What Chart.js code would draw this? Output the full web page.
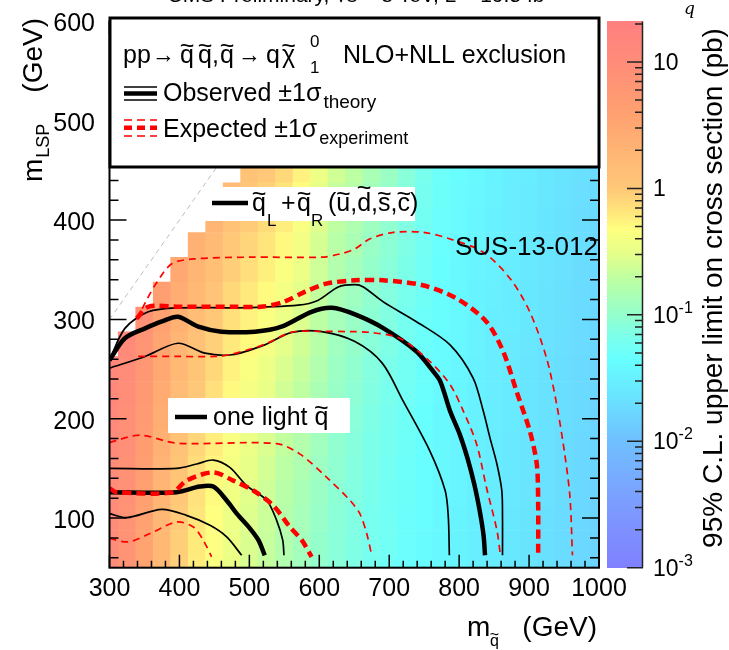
<!DOCTYPE html>
<html lang="en">
<head>
<meta charset="UTF-8">
<title>SUS-13-012 squark exclusion</title>
<script src="https://cdn.jsdelivr.net/npm/chart.js"></script>
<style>
  html, body { margin: 0; padding: 0; background: #fff; }
  #wrap { width: 729px; height: 650px; }
</style>
</head>
<body>
<div id="wrap"><canvas id="myChart" width="729" height="650"></canvas></div>
<script>
const FONT = "'Liberation Sans', Arial, Helvetica, sans-serif";

// limit map grid (GeV)
const squarkMass = [300, 325, 350, 375, 400, 425, 450, 475, 500, 525, 550, 575, 600, 625, 650,
  675, 700, 725, 750, 775, 800, 825, 850, 875, 900, 925, 950, 975, 1000];
const lspMass = [50, 75, 100, 125, 150, 175, 200, 225, 250, 275, 300, 325, 350, 375, 400, 425, 450];

// 100 * log10(95% CL upper limit / pb), one row per lspMass, null = no point
const limitLog = [
  [100, 85, 55, 22, -5, -22, -35, -48, -58, -68, -80, -90, -100, -108, -115, -122, -128, -133, -138, -143, -147, -152, -156, -160, -164, -168, -172, -176, -180],
  [101, 86, 56, 23, -4, -21, -34, -47, -57, -67, -79, -89, -99, -107, -114, -121, -127, -132, -138, -143, -147, -152, -156, -160, -164, -168, -172, -176, -180],
  [102, 87, 58, 25, -2, -19, -32, -45, -55, -65, -77, -87, -97, -106, -113, -121, -127, -132, -137, -142, -147, -152, -156, -160, -164, -168, -172, -176, -180],
  [103, 89, 60, 28, 1, -16, -30, -43, -53, -63, -75, -85, -95, -105, -112, -119, -126, -131, -137, -142, -146, -151, -155, -159, -163, -167, -171, -175, -180],
  [104, 91, 63, 31, 5, -13, -27, -40, -50, -60, -72, -82, -93, -103, -111, -118, -125, -130, -136, -142, -146, -151, -155, -159, -163, -167, -171, -175, -179],
  [106, 93, 66, 35, 9, -9, -23, -37, -47, -57, -69, -79, -90, -102, -109, -117, -123, -129, -135, -141, -146, -151, -155, -159, -163, -167, -171, -175, -179],
  [108, 95, 70, 39, 13, -5, -19, -33, -43, -53, -65, -75, -87, -99, -107, -115, -122, -128, -135, -141, -145, -150, -154, -158, -162, -166, -170, -174, -179],
  [110, 98, 74, 43, 18, 0, -15, -29, -39, -49, -61, -71, -84, -96, -104, -113, -120, -127, -133, -140, -144, -149, -154, -158, -162, -166, -170, -174, -178],
  [112, 101, 78, 48, 23, 5, -10, -25, -35, -45, -57, -67, -80, -94, -102, -111, -118, -125, -132, -139, -144, -149, -153, -158, -162, -166, -170, -174, -178],
  [null, 105, 83, 53, 29, 10, -5, -20, -30, -40, -52, -62, -76, -91, -99, -108, -115, -123, -131, -138, -143, -148, -153, -157, -161, -165, -169, -173, -177],
  [null, null, 88, 59, 35, 16, 0, -15, -25, -35, -47, -57, -72, -87, -96, -105, -113, -122, -130, -137, -142, -147, -152, -156, -160, -164, -168, -172, -177],
  [null, null, null, 65, 41, 22, 6, -10, -20, -30, -41, -52, -68, -84, -92, -102, -111, -120, -128, -136, -142, -147, -151, -156, -160, -164, -168, -172, -176],
  [null, null, null, null, 48, 29, 12, -4, -14, -24, -35, -47, -63, -79, -88, -99, -108, -117, -127, -135, -141, -146, -150, -155, -159, -163, -167, -171, -176],
  [null, null, null, null, null, 36, 19, 2, -8, -18, -29, -42, -59, -75, -84, -96, -105, -115, -125, -134, -140, -145, -150, -154, -158, -162, -166, -170, -175],
  [null, null, null, null, null, null, 28, 9, -2, -12, -23, -37, -55, -71, -81, -92, -102, -113, -124, -133, -139, -144, -149, -154, -158, -162, -166, -170, -174],
  [null, null, null, null, null, null, null, 18, 3, -6, -17, -31, -50, -67, -76, -89, -98, -110, -122, -131, -138, -143, -148, -153, -157, -161, -165, -169, -174],
  [null, null, null, null, null, null, null, null, 8, 0, -10, -25, -45, -62, -72, -85, -95, -108, -120, -130, -137, -142, -147, -152, -156, -160, -164, -168, -173]
];

// contours, [m_squark, m_LSP]; q_L + q_R (8 squarks)
const obsUpper = [[300, 259], [322, 281], [351, 291], [375, 298], [398, 302.7], [427, 292.7], [460, 287.7],
  [508, 287.7], [546, 292.7], [589, 307.7], [618, 311.7], [651, 305], [692, 291], [739, 267.7], [761, 249.4],
  [773, 237.7], [787, 207.7], [801, 184], [812, 160], [822, 133], [830, 105], [835, 82], [837, 62.5]];
const obsUpperPlus = [[300, 259], [322, 291], [355.5, 307.7], [398, 311.7], [484, 311.7], [570, 314.4],
  [598.6, 319.4], [627, 332.7], [651, 335], [663, 332.7], [691.5, 317.7], [739, 297.7], [787, 274.4],
  [820, 241], [834.5, 207.7], [844, 181], [854, 154.4], [861, 127.7], [862, 100], [862, 62.5]];
const obsUpperMinus = [[300, 251], [351, 262.7], [398, 276], [436.5, 266], [474.7, 264.4], [522, 274.4],
  [560.5, 287], [603.5, 287.7], [651, 277.7], [690, 256], [720, 217.7], [758, 167.7], [780, 127.7],
  [784.5, 101], [786, 62.5]];
const expUpper = [[339, 301], [355, 312.7], [400, 312.7], [480, 312.7], [520, 313], [550, 318], [580, 328],
  [610, 336], [651, 339.4], [691.5, 339.4], [748, 334.4], [796.5, 321], [839, 297.7], [863, 267.7],
  [882, 227.7], [901, 187.7], [911, 154.4], [913, 114.4], [913, 62.5]];
const expUpperPlus = [[339, 300], [352, 318], [365, 334.4], [389, 356], [422, 361], [500, 362.7],
  [603.5, 362.7], [630, 366], [651, 371], [672, 381], [706, 387.7], [748.7, 387.7], [787, 381],
  [834.5, 367.7], [873, 341], [901, 307.7], [925, 261], [939.5, 214.4], [951, 164.4], [958.5, 121], [962, 62.5]];
const expUpperMinus = [[341, 262.7], [400, 262.7], [451, 262.7], [475, 265], [522, 275], [560, 287],
  [603, 288], [644, 287.7], [672, 287], [715, 281], [758, 257.7], [787, 234.4], [806, 207.7],
  [825, 174.4], [839, 131], [854, 87.7], [859, 62.5]];

// one light squark
const obsLower = [[300, 126], [396, 126], [429, 131.7], [448.5, 131.7], [467.6, 117.7], [482, 104.4],
  [501, 89.4], [513, 77.7], [522, 62.5]];
const obsLowerPlus = [[300, 150], [396, 150], [424.7, 154.4], [448.5, 158.4], [472, 151], [496, 132.7],
  [525, 117.7], [539, 97.7], [547.7, 77.7], [549.5, 62.5]];
const obsLowerMinus = [[300, 104.4], [324.6, 100.4], [374.6, 108.7], [410, 102.7], [443.7, 92.7],
  [467.6, 81], [489, 62.5]];
const expLower = [[300, 130], [310, 126], [390, 126], [410, 137.7], [448.5, 146], [477, 137.7],
  [505.6, 127.7], [534, 112.7], [558, 91], [575, 77.7], [589, 61]];
const expLowerPlus = [[300, 176], [343.6, 183.4], [396, 175.4], [539, 175], [572.4, 164.4], [610.6, 141],
  [644, 117.7], [658, 104.4], [667.8, 84.4], [675, 62.5]];
const expLowerMinus = [[300, 79.4], [327, 76], [358, 84.4], [396, 96], [420, 91], [434, 77.7], [446, 61]];

const diagonal = [[300, 300], [460, 460]];

const colourTicks = [0.001, 0.01, 0.1, 1, 10];
const colourTickText = [['10', '-3'], ['10', '-2'], ['10', '-1'], ['1', ''], ['10', '']];

// palette: [log10(pb), r, g, b]
const palette = [
  [-3.0, 128, 128, 255], [-2.5, 124, 156, 255], [-2.0, 112, 192, 255], [-1.6, 104, 232, 255],
  [-1.35, 104, 255, 255], [-1.2, 120, 255, 238], [-0.97, 152, 255, 200], [-0.7, 192, 255, 160],
  [-0.5, 232, 255, 136], [-0.32, 255, 255, 128], [-0.2, 255, 232, 124], [0.0, 255, 200, 120],
  [0.6, 255, 160, 112], [1.0, 255, 140, 120], [1.32, 255, 128, 128]
];

function colourFor(lg) {
  if (lg <= palette[0][0]) return `rgb(${palette[0][1]},${palette[0][2]},${palette[0][3]})`;
  for (let i = 1; i < palette.length; i++) {
    const a = palette[i - 1], b = palette[i];
    if (lg <= b[0]) {
      const t = (lg - a[0]) / (b[0] - a[0]);
      const c = [1, 2, 3].map(k => Math.round(a[k] + (b[k] - a[k]) * t));
      return `rgb(${c[0]},${c[1]},${c[2]})`;
    }
  }
  const l = palette[palette.length - 1];
  return `rgb(${l[1]},${l[2]},${l[3]})`;
}

const halfCell = (lspMass[1] - lspMass[0]) / 2;
const heatSets = lspMass.map((lsp, r) => {
  const pts = [], cols = [];
  squarkMass.forEach((m, c) => {
    const v = limitLog[r][c];
    if (v === null) return;
    pts.push({ x: m, y: [lsp - halfCell, lsp + halfCell] });
    cols.push(colourFor(v / 100));
  });
  return { type: 'bar', data: pts, backgroundColor: cols, borderWidth: 0,
    barPercentage: 1, categoryPercentage: 1, grouped: false, order: 10 };
});

function curve(pts, color, width, dash) {
  return { type: 'line', data: pts.map(p => ({ x: p[0], y: p[1] })), borderColor: color,
    borderWidth: width, borderDash: dash || [], pointRadius: 0, tension: 0.3, fill: false, order: 1 };
}

const RED = '#ff0000';
const lineSets = [
  curve(diagonal, '#bdbdbd', 1, [5, 4]),
  curve(expUpperPlus, RED, 1.7, [7, 5]), curve(expUpperMinus, RED, 1.7, [7, 5]), curve(expUpper, RED, 4.5, [9, 5]),
  curve(expLowerPlus, RED, 1.7, [7, 5]), curve(expLowerMinus, RED, 1.7, [7, 5]), curve(expLower, RED, 4.5, [9, 5]),
  curve(obsUpperPlus, '#000', 1.7), curve(obsUpperMinus, '#000', 1.7), curve(obsUpper, '#000', 4.5),
  curve(obsLowerPlus, '#000', 1.7), curve(obsLowerMinus, '#000', 1.7), curve(obsLower, '#000', 4.5)
];
lineSets[0].order = 2;

// text helpers
function put(ctx, s, x, y, size, style) {
  ctx.font = (style ? style + ' ' : '') + size + 'px ' + FONT;
  ctx.textAlign = 'left';
  ctx.fillText(s, x, y);
  return x + ctx.measureText(s).width;
}
function withTilde(ctx, ch, x, y, size, tall) {
  const end = put(ctx, ch, x, y, size);
  ctx.textAlign = 'center';
  ctx.fillText('~', (x + end) / 2, y - size * (tall ? 0.6 : 0.36));
  ctx.textAlign = 'left';
  return end;
}
function hline(ctx, x0, x1, y, w, color, dash) {
  ctx.beginPath();
  ctx.setLineDash(dash || []);
  ctx.strokeStyle = color; ctx.lineWidth = w;
  ctx.moveTo(x0, y); ctx.lineTo(x1, y); ctx.stroke();
  ctx.setLineDash([]);
}

const decorations = {
  id: 'decorations',
  afterDraw(chart) {
    const ctx = chart.ctx, a = chart.chartArea;
    const xs = chart.scales.x, ys = chart.scales.y, zs = chart.scales.z;
    ctx.save();
    ctx.fillStyle = '#000';
    ctx.textBaseline = 'alphabetic';

    // inward tick marks on all four sides
    ctx.strokeStyle = '#000'; ctx.lineWidth = 1.5;
    ctx.beginPath();
    for (let v = 300; v <= 1000; v += 20) {
      const px = xs.getPixelForValue(v), len = v % 100 === 0 ? 13 : 7;
      ctx.moveTo(px, a.bottom); ctx.lineTo(px, a.bottom - len);
      ctx.moveTo(px, a.top); ctx.lineTo(px, a.top + len);
    }
    for (let v = 60; v <= 600; v += 20) {
      const py = ys.getPixelForValue(v), len = v % 100 === 0 ? 17 : 9;
      ctx.moveTo(a.left, py); ctx.lineTo(a.left + len, py);
      ctx.moveTo(a.right, py); ctx.lineTo(a.right - len, py);
    }
    ctx.stroke();
    ctx.lineWidth = 2;
    ctx.strokeRect(a.left, a.top, a.right - a.left, a.bottom - a.top);

    // colour bar
    const cbL = 607, cbR = 643;
    for (let py = Math.floor(zs.top); py < zs.bottom; py++) {
      const v = zs.getValueForPixel(Math.min(py + 0.5, zs.bottom));
      ctx.fillStyle = colourFor(Math.log10(v));
      ctx.fillRect(cbL, py, cbR - cbL, 1);
    }
    ctx.strokeStyle = '#222'; ctx.lineWidth = 1.5;
    ctx.beginPath();
    ctx.moveTo(cbR - 0.5, zs.top); ctx.lineTo(cbR - 0.5, zs.bottom);
    colourTicks.forEach(d => {
      const py = zs.getPixelForValue(d);
      ctx.moveTo(cbR, py); ctx.lineTo(cbR - 16, py);
      for (let k = 2; k <= 9; k++) {
        const v = d * k;
        if (v > zs.max) break;
        const q = zs.getPixelForValue(v);
        ctx.moveTo(cbR, q); ctx.lineTo(cbR - 8, q);
      }
    });
    ctx.stroke();
    ctx.fillStyle = '#000';
    colourTicks.forEach((d, i) => {
      const py = zs.getPixelForValue(d);
      const end = put(ctx, colourTickText[i][0], 653, py + 8, 23);
      if (colourTickText[i][1]) put(ctx, colourTickText[i][1], end, py - 2, 16);
    });

    // legend box
    ctx.fillStyle = '#fff';
    ctx.fillRect(110, 18, 489, 149);
    ctx.lineWidth = 3; ctx.strokeStyle = '#000';
    ctx.strokeRect(110, 18, 489, 149);
    ctx.fillStyle = '#000';
    put(ctx, 'pp', 123, 63, 25);
    ctx.font = '25px ' + FONT; ctx.fillText('\u2192', 152, 63, 23);
    withTilde(ctx, 'q', 180, 63, 25);
    const e2 = withTilde(ctx, 'q', 198, 63, 25);
    put(ctx, ',', e2, 63, 25);
    withTilde(ctx, 'q', 220, 63, 25);
    ctx.font = '25px ' + FONT; ctx.fillText('\u2192', 238, 63, 23);
    put(ctx, 'q', 266, 63, 25);
    withTilde(ctx, '\u03c7', 282, 63, 25);
    put(ctx, '0', 310, 47, 17);
    put(ctx, '1', 310, 73, 17);
    put(ctx, 'NLO+NLL exclusion', 343, 63, 25);

    hline(ctx, 124, 157, 87, 1.7, '#000');
    hline(ctx, 124, 157, 93.5, 4.5, '#000');
    hline(ctx, 124, 157, 100, 1.7, '#000');
    const o = put(ctx, 'Observed \u00b11\u03c3', 163, 101, 25);
    put(ctx, 'theory', o + 2, 108, 19);

    hline(ctx, 124, 157, 120, 1.7, RED, [8, 5]);
    hline(ctx, 124, 157, 127.7, 4.5, RED, [8, 5]);
    hline(ctx, 124, 157, 136, 1.7, RED, [8, 5]);
    ctx.fillStyle = '#000';
    const ex = put(ctx, 'Expected \u00b11\u03c3', 163, 137, 25);
    put(ctx, 'experiment', ex + 2, 144, 18);

    // q_L + q_R label
    ctx.fillStyle = '#fff'; ctx.fillRect(203, 187, 212, 34);
    hline(ctx, 212, 248, 203, 4.5, '#000');
    ctx.fillStyle = '#000';
    withTilde(ctx, 'q', 252, 211, 25);
    put(ctx, 'L', 267, 226, 17);
    put(ctx, '+', 281, 211, 25);
    withTilde(ctx, 'q', 297, 211, 25);
    put(ctx, 'R', 311, 226, 17);
    let cx = put(ctx, '(', 328, 211, 25);
    cx = withTilde(ctx, 'u', cx, 211, 25); cx = put(ctx, ',', cx, 211, 25);
    cx = withTilde(ctx, 'd', cx, 211, 25, true); cx = put(ctx, ',', cx, 211, 25);
    cx = withTilde(ctx, 's', cx, 211, 25); cx = put(ctx, ',', cx, 211, 25);
    cx = withTilde(ctx, 'c', cx, 211, 25); put(ctx, ')', cx, 211, 25);

    // one light squark label
    ctx.fillStyle = '#fff'; ctx.fillRect(168, 398, 182, 35);
    hline(ctx, 175, 207, 417, 4.5, '#000');
    ctx.fillStyle = '#000';
    const ol = put(ctx, 'one light ', 213, 425, 25);
    withTilde(ctx, 'q', ol, 425, 25);

    ctx.font = '26px ' + FONT; ctx.textAlign = 'right';
    ctx.fillText('SUS-13-012', 598, 255);

    // axis titles
    put(ctx, 'm', 467, 636, 28);
    withTilde(ctx, 'q', 490, 646, 16);
    ctx.font = '28px ' + FONT; ctx.textAlign = 'right';
    ctx.fillText('(GeV)', 597, 636);

    ctx.save();
    ctx.translate(42, 182); ctx.rotate(-Math.PI / 2);
    const mw = put(ctx, 'm', 0, 0, 28);
    put(ctx, 'LSP', mw + 1, 7, 18);
    ctx.font = '28px ' + FONT; ctx.textAlign = 'right';
    ctx.fillText('(GeV)', 164, 0);
    ctx.restore();

    ctx.save();
    ctx.translate(722, 288); ctx.rotate(-Math.PI / 2);
    ctx.font = '28px ' + FONT; ctx.textAlign = 'center';
    ctx.fillText('95% C.L. upper limit on cross section (pb)', 0, 0);
    ctx.restore();

    // clipped header
    ctx.font = '21px ' + FONT; ctx.textAlign = 'center';
    ctx.fillText('CMS Preliminary, \u221as = 8 TeV, L = 19.5 fb\u207b\u00b9', 363, 2);
    ctx.font = "italic 17px 'DejaVu Serif', serif"; ctx.textAlign = 'left';
    ctx.fillText('q', 684, 14);
    ctx.restore();
  }
};

Chart.defaults.font.family = FONT;
Chart.defaults.color = '#000';

const chart = new Chart(document.getElementById('myChart').getContext('2d'), {
  type: 'bar',
  data: { datasets: [...heatSets, ...lineSets] },
  options: {
    responsive: false,
    animation: false,
    events: [],
    layout: { padding: { top: 17.7, right: 130, left: 0, bottom: 0 } },
    plugins: { legend: { display: false }, tooltip: { enabled: false }, title: { display: false } },
    scales: {
      x: {
        type: 'linear', position: 'bottom', min: 300, max: 1000, offset: false,
        grid: { display: false, offset: false }, border: { display: false },
        ticks: { stepSize: 100, font: { size: 25 }, color: '#000', padding: -2, maxRotation: 0, autoSkip: false,
          callback: v => String(v) },
        afterFit: s => { s.height = 82.3; }
      },
      y: {
        type: 'linear', position: 'left', min: 50, max: 600,
        grid: { display: false }, border: { display: false },
        ticks: { stepSize: 100, includeBounds: false, font: { size: 25 }, color: '#000', padding: 6.5,
          labelOffset: 3, callback: v => String(v) },
        afterFit: s => { s.width = 109.5; }
      },
      z: { type: 'logarithmic', position: 'right', display: false, min: 0.001, max: 20.9 }
    }
  },
  plugins: [decorations]
});
</script>
</body>
</html>
